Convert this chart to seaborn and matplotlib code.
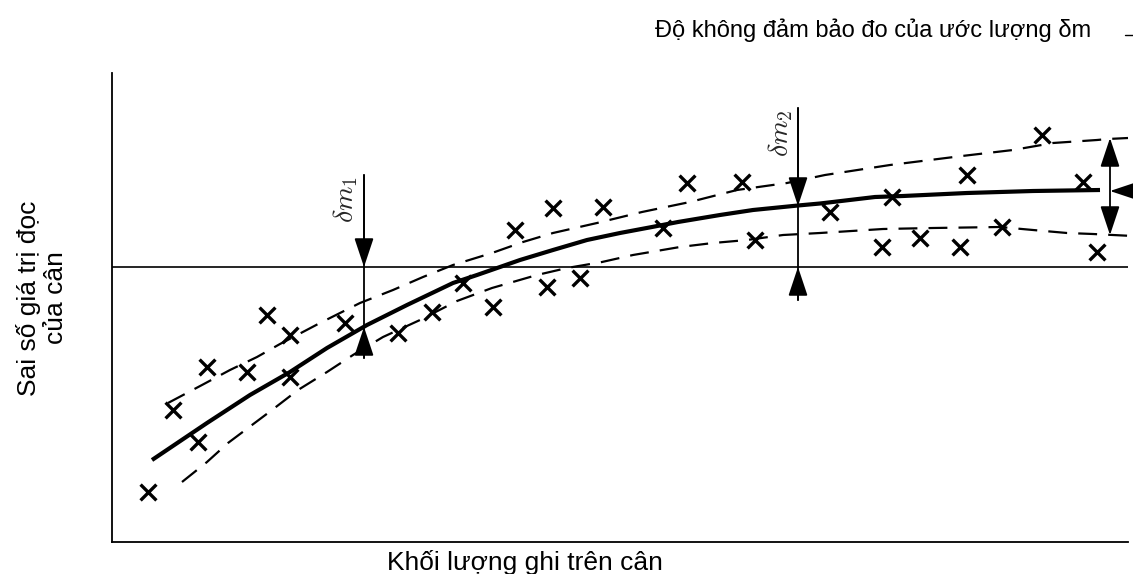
import matplotlib
matplotlib.use('Agg')
import matplotlib.pyplot as plt
import seaborn as sns
import pandas as pd
from matplotlib.lines import Line2D

# ---- data (x: nominal mass, y: indicated error) ----
meas_x = [3.6, 6.1, 8.6, 9.5, 13.5, 15.5, 17.8, 17.8, 23.3, 28.6, 32.0, 35.1, 38.1, 40.3, 43.5, 44.1,
          46.8, 49.1, 55.1, 57.5, 63.0, 64.3, 71.8, 77.0, 78.0, 80.8, 84.8, 85.5, 89.0, 93.0, 97.1, 98.5]
meas_y = [-22.5, -14.3, -17.5, -10.0, -10.5, -4.8, -6.8, -11.0, -5.6, -6.6, -4.5, -1.6, -4.0, 3.7, -2.0, 5.9,
          -1.1, 6.0, 3.9, 8.4, 8.5, 2.7, 5.5, 2.0, 7.0, 2.9, 2.0, 9.2, 4.0, 13.2, 8.5, 1.5]

fit_x = [4.0, 9.5, 13.8, 17.8, 21.5, 25.5, 29.5, 34.1, 36.5, 38.8, 40.8, 44.1, 47.5, 50.8, 54.0,
         56.6, 60.8, 64.1, 68.6, 70.8, 76.3, 79.1, 85.5, 92.1, 98.8]
fit_y = [-19.3, -15.6, -12.8, -10.5, -8.1, -5.8, -3.8, -1.6, -0.8, 0.0, 0.7, 1.7, 2.7, 3.4, 4.0,
         4.5, 5.2, 5.7, 6.15, 6.35, 7.0, 7.1, 7.4, 7.6, 7.7]

upper_x = [5.6, 9.0, 11.8, 14.5, 16.8, 20.8, 24.8, 28.1, 31.1, 34.1, 38.0, 41.1, 44.1, 48.5, 53.0,
           57.8, 62.5, 67.5, 71.3, 77.8, 85.0, 90.1, 94.1, 98.5, 99.6, 101.6]
upper_y = [-13.6, -11.8, -10.3, -9.0, -7.7, -5.6, -3.6, -2.3, -1.0, 0.2, 1.4, 2.5, 3.4, 4.4, 5.5,
           6.5, 7.7, 8.4, 9.2, 10.2, 11.1, 11.7, 12.4, 12.7, 12.8, 12.9]

lower_x = [7.0, 9.5, 11.6, 14.0, 16.0, 18.6, 21.5, 24.1, 27.1, 30.8, 34.5, 38.0, 42.5, 45.5, 49.0,
           52.1, 56.8, 60.1, 63.5, 67.1, 70.8, 77.1, 82.1, 88.8, 92.1, 95.5, 98.1, 100.1, 102.1]
lower_y = [-21.5, -19.5, -17.6, -15.8, -14.3, -12.3, -10.5, -8.8, -7.0, -5.3, -3.4, -2.1, -0.8, -0.1, 0.5,
           1.2, 2.0, 2.4, 2.7, 3.2, 3.4, 3.8, 3.9, 4.0, 3.7, 3.4, 3.3, 3.2, 3.1]

# uncertainty markers
dm1 = dict(x=25.2, top=9.2, down_tip=0.0, up_tip=-6.0, bottom=-9.1)
dm2 = dict(x=68.6, top=15.9, down_tip=6.1, up_tip=0.0, bottom=-3.3)
band_end = dict(x=99.8, upper=12.9, lower=3.2, mid=7.6)

title_text = "Độ không đảm bảo đo của ước lượng δm"
xlabel_text = "Khối lượng ghi trên cân"
ylabel_text = "Sai số giá trị đọc\ncủa cân"

# ---- style ----
sns.set_theme(style="white")
plt.rcParams['font.family'] = ['Liberation Sans', 'DejaVu Sans']
plt.rcParams['mathtext.fontset'] = 'cm'

W, H = 1133, 574
fig = plt.figure(figsize=(W / 100, H / 100), dpi=100)
ax = fig.add_axes([112 / W, 1 - 542 / H, (1128 - 112) / W, (542 - 73) / H])
ax.set_xlim(0, 101.6)
ax.set_ylim(-27.5, 19.4)
ax.set_xticks([])
ax.set_yticks([])
for s in ['top', 'right']:
    ax.spines[s].set_visible(False)
for s in ['left', 'bottom']:
    ax.spines[s].set_color('black')
    ax.spines[s].set_linewidth(1.3)

# zero line
ax.axhline(0, color='black', lw=1.2, zorder=1)

# curves
df_fit = pd.DataFrame({'x': fit_x, 'y': fit_y})
df_up = pd.DataFrame({'x': upper_x, 'y': upper_y})
df_lo = pd.DataFrame({'x': lower_x, 'y': lower_y})
sns.lineplot(data=df_fit, x='x', y='y', ax=ax, sort=False, estimator=None,
             color='black', lw=3.0, solid_capstyle='butt', solid_joinstyle='round', zorder=3)
for d in (df_up, df_lo):
    sns.lineplot(data=d, x='x', y='y', ax=ax, sort=False, estimator=None,
                 color='black', lw=1.6, linestyle=(0, (8.5, 5)), clip_on=False, zorder=2)

# measurement points
df_pts = pd.DataFrame({'x': meas_x, 'y': meas_y})
sns.scatterplot(data=df_pts, x='x', y='y', ax=ax, marker='x', s=130,
                color='black', linewidth=2.4, zorder=4)
ax.set_xlabel('')
ax.set_ylabel('')

# arrows
def head(tail, tip, style='-|>'):
    ax.annotate('', xy=tip, xytext=tail, annotation_clip=False,
                arrowprops=dict(arrowstyle=f'{style},head_length=1.8,head_width=0.6',
                                mutation_scale=10, lw=1.3, color='black',
                                shrinkA=0, shrinkB=0))

for d in (dm1, dm2):
    ax.plot([d['x'], d['x']], [d['bottom'], d['top']], color='black', lw=1.3, zorder=5)
    head((d['x'], d['top']), (d['x'], d['down_tip']))
    head((d['x'], d['bottom']), (d['x'], d['up_tip']))

head((band_end['x'], band_end['lower']), (band_end['x'], band_end['upper']), style='<|-|>')
head((band_end['x'] + 3.0, band_end['mid']), (band_end['x'], band_end['mid']))

ax.text(dm1['x'] - 1.8, 6.7, r'$\delta m_1$', rotation=90, ha='center', va='center', fontsize=20)
ax.text(dm2['x'] - 1.7, 13.4, r'$\delta m_2$', rotation=90, ha='center', va='center', fontsize=20)

# labels
fig.text(525 / W, 1 - 570 / H, xlabel_text, ha='center', va='baseline', fontsize=19, color='black')
fig.text(42 / W, 1 - 298 / H, ylabel_text, ha='center', va='center', rotation=90,
         multialignment='center', fontsize=19, color='black', linespacing=1.2)
fig.text(873 / W, 1 - 37 / H, title_text, ha='center', va='baseline', fontsize=17, color='black')
fig.add_artist(Line2D([1125 / W, 1133 / W], [1 - 35 / H, 1 - 35 / H], color='black', lw=1.0))

fig.savefig('out.png', dpi=100, facecolor='white')
